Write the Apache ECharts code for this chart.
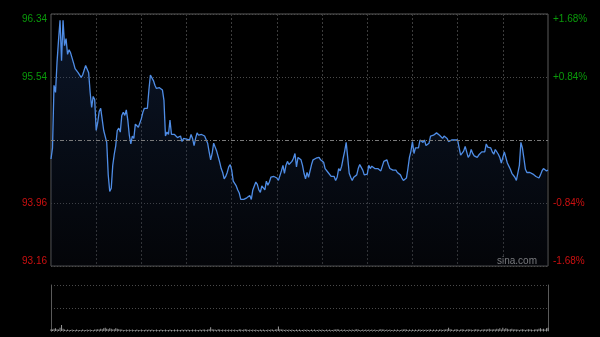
<!DOCTYPE html>
<html><head><meta charset="utf-8">
<script src="https://cdn.jsdelivr.net/npm/echarts@6/dist/echarts.min.js"></script>
<style>html,body{margin:0;padding:0;background:#000;}#c{width:600px;height:337px;}</style>
</head><body><div id="c"></div>
<script>
const sessions = [['09:30', 150], ['13:00', 180]];
const prevClose = 94.75;
const priceMin = 93.16, priceMax = 96.34;
const priceTicks = ['93.16', '93.96', '', '95.54', '96.34'];
const pctTicks = ['-1.68%', '-0.84%', '', '+0.84%', '+1.68%'];
const prices = [
94.51,94.65,95.44,95.35,95.73,96.01,96.26,95.75,96.26,95.94,96.03,95.83,95.89,95.85,95.84,95.72,95.65,95.64,95.60,95.59,95.54,95.57,95.63,95.69,95.67,95.60,95.35,95.16,95.30,95.26,
94.87,94.97,95.11,95.15,95.13,94.87,94.85,94.72,94.31,94.10,94.14,94.43,94.57,94.68,94.87,94.90,94.85,95.06,95.10,95.06,95.13,95.00,94.81,94.70,94.80,94.77,94.95,94.96,94.91,94.91,
95.02,95.10,95.15,95.13,95.15,95.38,95.57,95.57,95.50,95.44,95.40,95.38,95.41,95.43,95.38,95.25,94.80,94.85,94.82,95.00,94.82,94.82,94.82,94.82,94.78,94.76,94.80,94.73,94.77,94.77,
94.76,94.77,94.75,94.82,94.77,94.68,94.77,94.84,94.81,94.80,94.82,94.82,94.80,94.80,94.71,94.60,94.50,94.58,94.71,94.66,94.61,94.60,94.47,94.39,94.34,94.26,94.29,94.34,94.41,94.44,
94.37,94.23,94.22,94.17,94.12,94.08,94.00,94.00,94.00,94.02,94.02,94.03,94.05,94.00,94.12,94.14,94.22,94.19,94.12,94.09,94.17,94.19,94.12,94.23,94.18,94.22,94.28,94.27,94.29,94.29,
94.27,94.24,94.26,94.36,94.43,94.33,94.43,94.48,94.44,94.44,94.48,94.52,94.58,94.41,94.53,94.53,94.50,94.43,94.33,94.26,94.34,94.28,94.28,94.44,94.50,94.52,94.52,94.51,94.53,94.50,
94.50,94.47,94.39,94.41,94.34,94.34,94.29,94.28,94.29,94.24,94.28,94.39,94.36,94.42,94.52,94.61,94.72,94.53,94.33,94.28,94.24,94.28,94.28,94.31,94.39,94.44,94.43,94.37,94.31,94.31,
94.32,94.43,94.39,94.42,94.42,94.39,94.39,94.39,94.38,94.36,94.42,94.48,94.50,94.50,94.44,94.39,94.38,94.37,94.36,94.37,94.34,94.34,94.31,94.27,94.24,94.24,94.27,94.39,94.53,94.61,
94.73,94.58,94.65,94.66,94.65,94.75,94.75,94.72,94.75,94.68,94.70,94.71,94.80,94.82,94.81,94.80,94.84,94.85,94.81,94.80,94.77,94.80,94.80,94.77,94.73,94.72,94.75,94.75,94.75,94.75,
94.75,94.65,94.56,94.55,94.61,94.67,94.60,94.53,94.56,94.63,94.58,94.55,94.53,94.53,94.56,94.58,94.60,94.60,94.60,94.70,94.66,94.65,94.65,94.60,94.57,94.63,94.61,94.57,94.53,94.46,
94.48,94.60,94.53,94.46,94.42,94.38,94.33,94.31,94.28,94.24,94.24,94.43,94.72,94.65,94.52,94.38,94.34,94.34,94.34,94.34,94.32,94.31,94.29,94.27,94.27,94.31,94.36,94.39,94.41,94.36,94.37
];
const volumes = [
4,3,5,6,4,3,7,13,5,3,2,3,2,2,3,2,2,3,2,2,2,3,2,2,3,2,3,2,2,3,
3,4,3,5,4,6,7,5,4,6,5,3,4,6,5,4,3,3,2,2,3,2,3,2,3,2,2,3,2,2,
3,2,2,3,2,3,2,3,2,2,3,2,2,3,2,2,3,2,2,3,2,2,3,2,3,2,2,3,2,3,
2,3,2,2,3,2,3,2,2,3,2,3,3,2,3,4,8,4,3,3,2,4,3,2,3,2,3,2,3,2,
3,2,3,2,2,4,3,2,3,4,3,2,3,2,3,2,3,2,2,3,2,3,2,2,3,2,3,3,2,3,
4,10,4,3,3,2,3,2,3,2,3,2,2,3,2,3,2,2,3,2,3,2,2,3,2,3,2,2,3,2,
3,2,2,3,2,3,2,2,3,3,4,3,2,3,2,3,2,2,3,2,3,2,3,4,3,2,2,3,2,3,
2,3,2,3,2,3,2,2,3,4,3,3,2,3,2,3,2,2,3,2,3,2,2,3,3,4,3,2,3,2,
3,2,3,2,3,3,2,3,2,3,2,3,3,2,3,2,3,2,3,3,2,3,3,4,7,4,3,2,3,4,
3,2,3,4,3,2,3,4,3,3,2,3,4,3,3,2,3,3,4,3,4,5,3,3,4,3,5,4,6,3,
7,4,6,5,3,4,5,3,4,3,3,2,3,4,3,2,3,4,3,3,2,3,4,3,5,6,4,5,3,6,7
];

// minute labels for an HK trading day (category axis)
const times = [];
sessions.forEach(function (s, si) {
  let [h, m] = s[0].split(':').map(Number);
  const n = si === 0 ? s[1] + 1 : s[1];
  for (let i = 0; i < n; i++) {
    times.push(String(h).padStart(2, '0') + ':' + String(m).padStart(2, '0'));
    m++; if (m === 60) { m = 0; h++; }
  }
});

const GREEN = '#0a9a0a', RED = '#cc1010', FONT = 'Liberation Sans, Arial, sans-serif';
const chart = echarts.init(document.getElementById('c'));
chart.setOption({
  backgroundColor: '#000',
  animation: false,
  graphic: [{
    type: 'text', right: 63, top: 256,
    style: { text: 'sina.com', fill: '#9a9a9a', font: '10px ' + FONT }
  }],
  grid: [
    { left: 51, right: 52, top: 14, bottom: 71, show: true, borderColor: '#5a5a5a', borderWidth: 1, backgroundColor: 'transparent' },
    { left: 51, right: 52, top: 285, bottom: 6 }
  ],
  xAxis: [
    { type: 'category', gridIndex: 0, data: times, boundaryGap: false,
      axisLine: { show: false }, axisTick: { show: false }, axisLabel: { show: false },
      splitLine: { show: true, interval: function (i) { return i % 30 === 0 && i > 0 && i < times.length - 1; },
        lineStyle: { color: '#3c3c3c', type: [2, 2], width: 1 } } },
    { type: 'category', gridIndex: 1, data: times, boundaryGap: false,
      axisLine: { show: false }, axisTick: { show: false }, axisLabel: { show: false }, splitLine: { show: false } }
  ],
  yAxis: [
    { type: 'value', gridIndex: 0, min: priceMin, max: priceMax, show: false },
    { type: 'value', gridIndex: 0, min: 0, max: 4, interval: 1, position: 'left',
      axisLine: { show: false }, axisTick: { show: false },
      splitLine: { show: true, lineStyle: { color: '#4a4a4a', type: [1, 2], width: 1 } },
      axisLabel: { margin: 4, fontSize: 10, fontFamily: FONT,
        verticalAlignMinLabel: 'bottom', verticalAlignMaxLabel: 'top',
        formatter: function (v) { return priceTicks[v]; },
        color: function (v) { return Number(v) > 2 ? GREEN : RED; } } },
    { type: 'value', gridIndex: 0, min: 0, max: 4, interval: 1, position: 'right',
      axisLine: { show: false }, axisTick: { show: false }, splitLine: { show: false },
      axisLabel: { margin: 5, fontSize: 10, fontFamily: FONT,
        verticalAlignMinLabel: 'bottom', verticalAlignMaxLabel: 'top',
        formatter: function (v) { return pctTicks[v]; },
        color: function (v) { return Number(v) > 2 ? GREEN : RED; } } },
    { type: 'value', gridIndex: 1, min: 0, max: 100, show: false },
    { type: 'value', gridIndex: 1, min: 0, max: 2, interval: 1, position: 'left',
      axisLine: { show: true, lineStyle: { color: '#5a5a5a', width: 1 } }, axisTick: { show: false }, axisLabel: { show: false },
      splitLine: { show: true, lineStyle: { color: '#4a4a4a', type: [1, 2], width: 1 } } },
    { type: 'value', gridIndex: 1, min: 0, max: 2, interval: 1, position: 'right',
      axisLine: { show: true, lineStyle: { color: '#5a5a5a', width: 1 } }, axisTick: { show: false }, axisLabel: { show: false },
      splitLine: { show: false } }
  ],
  series: [
    { type: 'line', xAxisIndex: 0, yAxisIndex: 0, data: prices, showSymbol: false, symbol: 'none',
      lineStyle: { color: '#4f8de6', width: 1.3 },
      areaStyle: { origin: 'start', color: new echarts.graphic.LinearGradient(0, 0, 0, 1, [
        { offset: 0, color: 'rgba(35,70,130,0.45)' }, { offset: 1, color: 'rgba(15,20,35,0.35)' }]) },
      markLine: { silent: true, symbol: 'none', label: { show: false },
        lineStyle: { color: '#7a7a7a', type: [4, 2, 1, 2], width: 1 },
        data: [{ yAxis: prevClose }] } },
    { type: 'bar', xAxisIndex: 1, yAxisIndex: 3, data: volumes, barWidth: 1,
      itemStyle: { color: '#9a9a9a' } }
  ]
});
</script></body></html>
